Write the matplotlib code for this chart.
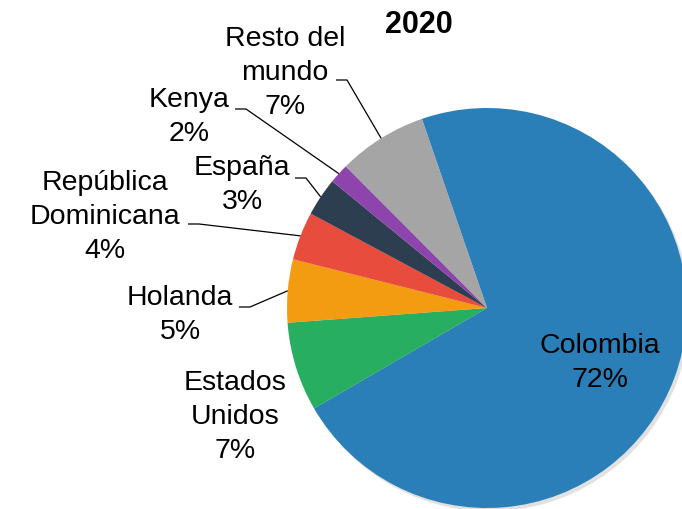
import numpy as np
import matplotlib
matplotlib.use("Agg")
import matplotlib.pyplot as plt

plt.rcParams['font.family'] = ['Liberation Sans', 'DejaVu Sans']

# data (share of exports, %)
countries = ['Colombia', 'Estados\nUnidos', 'Holanda', 'República\nDominicana',
             'España', 'Kenya', 'Resto del\nmundo']
shares = [71.9, 7.2, 5.1, 3.9, 3.1, 1.6, 7.2]
colors = ['#2B7FB8', '#27AE60', '#F39C12', '#E74C3C', '#2C3E50', '#8E44AD', '#A5A5A5']
title = 'Exportaciones\n2020'

# label placement (data units, pie radius = 1): text centre, leader start, stub length
label_pos = {
    'Colombia': (0.565, -0.275),
    'Estados\nUnidos': (-1.26, -0.545),
    'Holanda': (-1.535, -0.035),
    'República\nDominicana': (-1.91, 0.455),
    'España': (-1.225, 0.615),
    'Kenya': (-1.49, 0.955),
    'Resto del\nmundo': (-1.01, 1.175),
}
leader_start = {
    'Holanda': (-1.24, 0.005),
    'República\nDominicana': (-1.495, 0.42),
    'España': (-0.96, 0.65),
    'Kenya': (-1.26, 0.995),
    'Resto del\nmundo': (-0.755, 1.14),
}
stub = 0.055

fig = plt.figure(figsize=(6.82, 5.09), dpi=100)
ax = fig.add_axes([0, 0, 1, 1])

wedges, _ = ax.pie(shares, colors=colors, startangle=109, counterclock=False,
                   radius=1, center=(0, 0),
                   shadow={'ox': 0.01, 'oy': -0.012, 'shade': 0.0,
                           'facecolor': '#888888', 'alpha': 0.25},
                   wedgeprops={'linewidth': 0})

total = sum(shares)
for w, name, val in zip(wedges, countries, shares):
    pct = round(val / total * 100)
    tx, ty = label_pos[name]
    ax.text(tx, ty, f'{name}\n{pct}%', ha='center', va='center',
            fontsize=20.5, linespacing=1.42, color='black')
    if name in leader_start:
        mid = np.deg2rad((w.theta1 + w.theta2) / 2)
        ex, ey = np.cos(mid), np.sin(mid)
        sx, sy = leader_start[name]
        ax.plot([sx, sx + stub, ex], [sy, sy, ey], color='black', lw=0.9,
                solid_capstyle='butt')

# first title line sits above the canvas, only "2020" shows
ax.text(-0.34, 1.34, title, ha='center', va='bottom', fontsize=22,
        fontweight='bold', linespacing=1.55)

ax.set_xlim(-2.435, 0.975)
ax.set_ylim(-1.005, 1.54)
ax.set_aspect('auto')
ax.axis('off')

fig.savefig('out.png', dpi=100)
